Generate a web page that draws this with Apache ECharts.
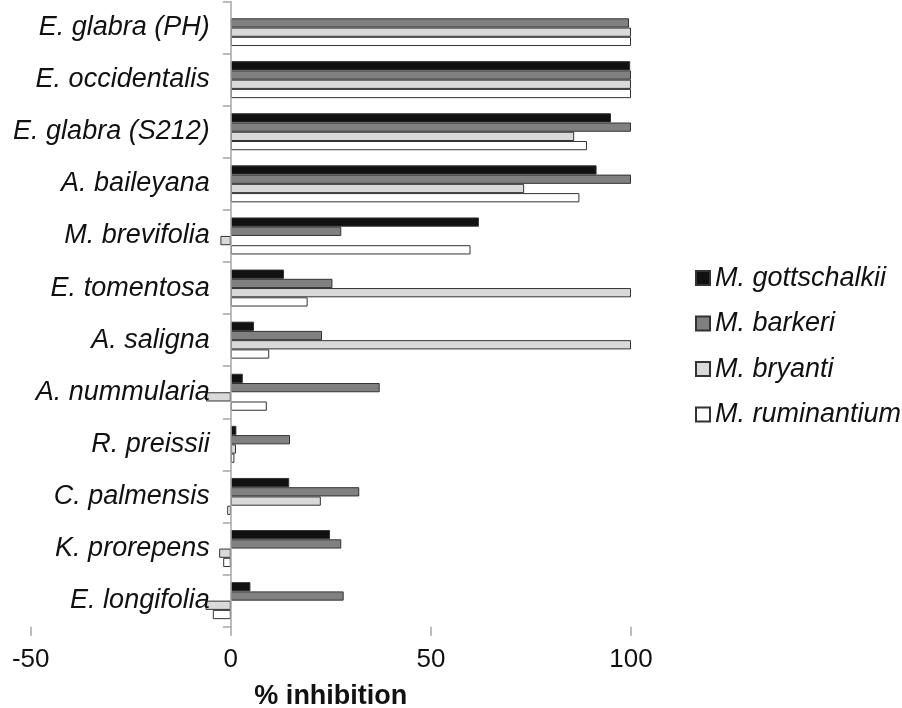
<!DOCTYPE html>
<html>
<head>
<meta charset="utf-8">
<script src="https://cdn.jsdelivr.net/npm/echarts@6/dist/echarts.min.js"></script>
<style>
html,body{margin:0;padding:0;background:#fff;}
#chart{width:902px;height:708px;}
</style>
</head>
<body>
<div id="chart"></div>
<script>
var categories = ['E. glabra (PH)','E. occidentalis','E. glabra (S212)','A. baileyana','M. brevifolia','E. tomentosa','A. saligna','A. nummularia','R. preissii','C. palmensis','K. prorepens','E. longifolia'];
var gottschalkii = [null, 99.8, 95, 91.4, 62, 13.3, 5.8, 3, 1.4, 14.6, 24.8, 4.9];
var barkeri = [99.5, 100, 100, 100, 27.6, 25.4, 22.8, 37.2, 14.8, 32.1, 27.6, 28.2];
var bryanti = [100, 100, 85.8, 73.3, -2.6, 100, 100, -6.2, 1.3, 22.5, -2.9, -6.3];
var ruminantium = [100, 100, 89, 87.1, 59.9, 19.2, 9.6, 9, 0.9, -0.9, -1.9, -4.5];
var seriesNames = ['M. gottschalkii','M. barkeri','M. bryanti','M. ruminantium'];
var xTicks = [-50, 0, 50, 100];

var colors = ['#111111','#808080','#d9d9d9','#ffffff'];
var seriesData = [gottschalkii, barkeri, bryanti, ruminantium];
var font = '"Liberation Sans", Arial, sans-serif';

var chart = echarts.init(document.getElementById('chart'), null, {renderer:'canvas'});
chart.setOption({
  animation: false,
  backgroundColor: '#ffffff',
  grid: {left: 30.7, right: 271, top: 1.5, bottom: 81.3, containLabel: false, outerBoundsMode: 'none'},
  legend: {
    orient: 'vertical',
    left: 690,
    top: 259.5,
    itemWidth: 14,
    itemHeight: 14,
    itemGap: 18.5,
    icon: 'rect',
    data: seriesNames,
    textStyle: {fontFamily: font, fontSize: 27, fontStyle: 'italic', color: '#111', lineHeight: 27, padding: [0,0,0,0]}
  },
  xAxis: {
    type: 'value',
    min: xTicks[0],
    max: xTicks[xTicks.length-1],
    interval: 50,
    name: '% inhibition',
    nameLocation: 'middle',
    nameGap: 56,
    nameTextStyle: {fontFamily: font, fontSize: 27, fontWeight: 'bold', color: '#111'},
    axisLine: {onZero: false, lineStyle: {color: '#a6a6a6', width: 1.5}},
    axisTick: {show: true, length: 9, lineStyle: {color: '#a6a6a6', width: 1.5}},
    axisLabel: {fontFamily: font, fontSize: 26, color: '#111', margin: 20},
    splitLine: {show: false}
  },
  yAxis: {
    type: 'category',
    inverse: true,
    data: categories,
    z: 5,
    axisLine: {onZero: true, lineStyle: {color: '#a6a6a6', width: 1.5}},
    axisTick: {show: true, length: 8, lineStyle: {color: '#a6a6a6', width: 1.5}},
    axisLabel: {fontFamily: font, fontSize: 27, fontStyle: 'italic', color: '#111', margin: -179}
  },
  series: seriesNames.map(function(n, i){
    return {
      name: n,
      type: 'bar',
      data: seriesData[i],
      barGap: '0%',
      barCategoryGap: '29%',
      itemStyle: {color: colors[i], borderColor: '#333333', borderWidth: 1}
    };
  })
});
</script>
</body>
</html>
